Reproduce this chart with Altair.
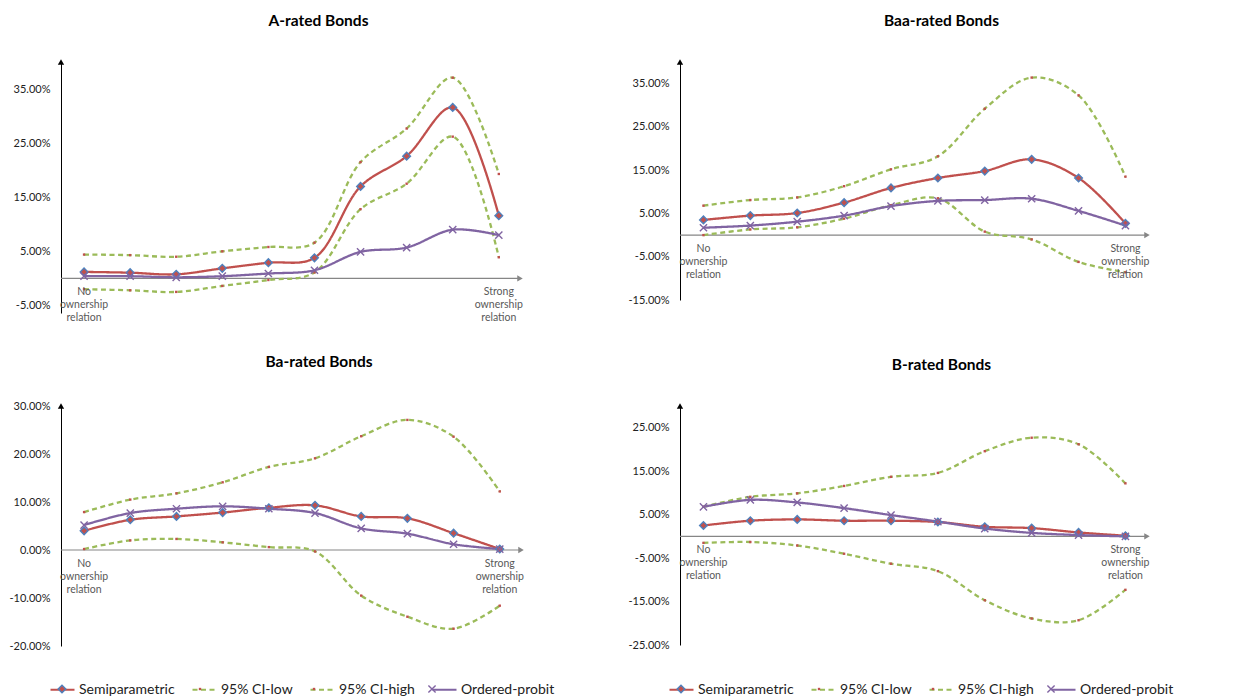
import altair as alt
import pandas as pd

FONT = "Lato"

X = [1, 2, 3, 4, 5, 6, 7, 8, 9, 10]
X_LABELS = ["No\nownership\nrelation", "", "", "", "", "", "", "", "", "Strong\nownership\nrelation"]
SERIES = ["Semiparametric", "95% CI-low", "95% CI-high", "Ordered-probit"]
# marker keys: same text plus a zero-width space so the marker legend is kept apart from the line legend
MARKERS = [s + "\u200b" for s in SERIES]

# A-rated
A_SEMI = [1.2, 1.05, 0.75, 1.85, 2.9, 3.8, 17.0, 22.6, 31.6, 11.6]
A_LOW = [-2.0, -2.2, -2.5, -1.4, -0.3, 1.1, 12.8, 17.5, 26.2, 3.9]
A_HIGH = [4.4, 4.3, 4.0, 5.0, 5.8, 6.6, 21.5, 27.7, 37.1, 19.3]
A_PROBIT = [0.4, 0.4, 0.2, 0.4, 0.9, 1.5, 4.9, 5.7, 9.0, 8.0]
A_TICKS = [-5, 0, 5, 10, 15, 20, 25, 30, 35, 40]

# Baa-rated
BAA_SEMI = [3.5, 4.5, 5.1, 7.5, 10.9, 13.2, 14.8, 17.5, 13.2, 2.7]
BAA_LOW = [0.0, 1.3, 1.8, 3.8, 6.9, 8.5, 0.8, -1.0, -6.2, -8.6]
BAA_HIGH = [6.8, 8.1, 8.7, 11.3, 15.2, 18.2, 29.2, 36.4, 32.3, 13.5]
BAA_PROBIT = [1.7, 2.2, 3.1, 4.5, 6.7, 7.9, 8.1, 8.4, 5.6, 2.2]
BAA_TICKS = [-15, -10, -5, 0, 5, 10, 15, 20, 25, 30, 35, 40]

# Ba-rated
BA_SEMI = [4.0, 6.3, 7.0, 7.8, 8.8, 9.3, 7.0, 6.6, 3.5, 0.2]
BA_LOW = [0.2, 2.0, 2.3, 1.6, 0.6, -0.3, -9.5, -13.9, -16.4, -11.6]
BA_HIGH = [7.9, 10.5, 11.8, 14.1, 17.3, 19.1, 23.7, 27.1, 23.6, 12.2]
BA_PROBIT = [5.2, 7.7, 8.6, 9.1, 8.6, 7.7, 4.5, 3.4, 1.2, 0.2]
BA_TICKS = [-20, -15, -10, -5, 0, 5, 10, 15, 20, 25, 30]

# B-rated
B_SEMI = [2.5, 3.6, 3.9, 3.6, 3.6, 3.3, 2.2, 1.9, 0.9, 0.15]
B_LOW = [-1.5, -1.3, -2.1, -4.0, -6.3, -8.0, -14.7, -18.9, -19.3, -12.3]
B_HIGH = [6.8, 9.1, 9.9, 11.6, 13.7, 14.6, 19.6, 22.7, 21.2, 12.2]
B_PROBIT = [6.8, 8.4, 7.8, 6.5, 4.9, 3.4, 1.8, 0.8, 0.3, 0.0]
B_TICKS = [-25, -20, -15, -10, -5, 0, 5, 10, 15, 20, 25, 30]

RED = "#C0504D"
GREEN = "#9BBB59"
PURPLE = "#8064A2"
BLUE = "#4F81BD"
AXIS_GREY = "#868686"

XMIN, XMAX = 0.5, 10.46

LABEL_EXPR = "(datum.value < 0 ? '-' : '') + format(abs(datum.value), '.2f') + '%'"

MARKER_SHAPES = [
    "M0,-0.32L0.32,0L0,0.32L-0.32,0Z",
    "M-0.04,-0.04L0.04,-0.04L0.04,0.04L-0.04,0.04Z",
    "M-0.04,-0.04L0.04,-0.04L0.04,0.04L-0.04,0.04Z",
    "M-0.3,-0.3L0.3,0.3M-0.3,0.3L0.3,-0.3",
]
SYM = 576


def make_panel(title, semi, low, high, probit, ticks, ymin, ymax, width, height, show_legend):
    rows = []
    for name, mk, vals in zip(SERIES, MARKERS, [semi, low, high, probit]):
        for x, v, lb in zip(X, vals, X_LABELS):
            rows.append({"x": x, "series": name, "marker": mk, "value": v,
                         "label": lb if name == SERIES[0] else ""})
    df = pd.DataFrame(rows)

    xs = alt.Scale(domain=[XMIN, XMAX], nice=False, zero=False)
    ys = alt.Scale(domain=[ymin, ymax], nice=False, zero=False)
    xenc = alt.X("x:Q", scale=xs, axis=None)
    yenc = alt.Y("value:Q", scale=ys, axis=alt.Axis(
        values=ticks, labelExpr=LABEL_EXPR, ticks=False, grid=False,
        domainColor="#000000", labelFont=FONT, labelFontSize=11,
        labelColor="#222222", labelPadding=11, title=None, labelOverlap=False))

    if show_legend:
        leg_lines = alt.Legend(
            title=None, orient="none", legendX=-12, legendY=270,
            direction="horizontal", symbolType="stroke", symbolSize=SYM,
            symbolStrokeWidth=2.2, labelFont=FONT, labelFontSize=14, labelColor="#222222",
            columnPadding=13, labelOffset=3)
        leg_marks = alt.Legend(
            title=None, orient="none", legendX=-12, legendY=270,
            direction="horizontal", symbolSize=SYM, symbolStrokeWidth=1.4,
            labelFont=FONT, labelFontSize=14, labelOpacity=0,
            columnPadding=13, labelOffset=3)
    else:
        leg_lines = None
        leg_marks = None

    base = alt.Chart(df)

    # axis decorations drawn from the data through the same scales
    axis_pts = base.transform_filter(alt.datum.series == SERIES[0]).transform_aggregate(
        n="count()"
    ).transform_calculate(zero="0", xend=str(XMAX), xstart=str(XMIN), ytop=str(ymax))

    xrule = axis_pts.mark_rule(color=AXIS_GREY, strokeWidth=1.2).encode(
        x=alt.X("xstart:Q", scale=xs, axis=None), x2="xend:Q",
        y=alt.Y("zero:Q", scale=ys))
    xarrow = axis_pts.mark_point(shape="triangle-right", filled=True, size=40,
                                 color=AXIS_GREY, opacity=1).encode(
        x=alt.X("xend:Q", scale=xs, axis=None), y=alt.Y("zero:Q", scale=ys))
    yarrow = axis_pts.mark_point(shape="triangle-up", filled=True, size=40,
                                 color="#000000", opacity=1).encode(
        x=alt.X("xstart:Q", scale=xs, axis=None), y=alt.Y("ytop:Q", scale=ys))

    lines = base.mark_line(interpolate="catmull-rom", strokeWidth=2.3).encode(
        x=xenc, y=yenc,
        color=alt.Color("series:N", scale=alt.Scale(domain=SERIES, range=[RED, GREEN, GREEN, PURPLE]),
                        legend=leg_lines),
        strokeDash=alt.StrokeDash("series:N", scale=alt.Scale(domain=SERIES,
                                  range=[[1, 0], [5, 3.5], [5, 3.5], [1, 0]]), legend=leg_lines),
    )

    markers = base.mark_point(size=SYM, strokeWidth=1.4, opacity=1).encode(
        x=xenc, y=yenc,
        shape=alt.Shape("marker:N", scale=alt.Scale(domain=MARKERS, range=MARKER_SHAPES), legend=leg_marks),
        fill=alt.Fill("marker:N", scale=alt.Scale(domain=MARKERS, range=[RED, RED, RED, "transparent"]),
                      legend=leg_marks),
        stroke=alt.Stroke("marker:N", scale=alt.Scale(domain=MARKERS, range=[BLUE, RED, RED, PURPLE]),
                          legend=leg_marks),
    )

    texts = base.transform_filter(alt.datum.label != "").transform_calculate(zero="0").mark_text(
        lineBreak="\n", baseline="top", dy=9, fontSize=10.5, font=FONT, color="#595959", lineHeight=13
    ).encode(x=xenc, y=alt.Y("zero:Q", scale=ys), text="label:N")

    return alt.layer(xrule, xarrow, yarrow, lines, markers, texts).properties(
        width=width, height=height,
        title=alt.TitleParams(title, font=FONT, fontSize=15.5, fontWeight="bold", color="#000000",
                              dx=28, offset=30),
    )


pA = make_panel("A-rated Bonds", A_SEMI, A_LOW, A_HIGH, A_PROBIT, A_TICKS, -6.4, 40, 459, 251, False)
pBaa = make_panel("Baa-rated Bonds", BAA_SEMI, BAA_LOW, BAA_HIGH, BAA_PROBIT, BAA_TICKS, -15, 40, 467, 238, False)
pBa = make_panel("Ba-rated Bonds", BA_SEMI, BA_LOW, BA_HIGH, BA_PROBIT, BA_TICKS, -20, 30, 460, 240, True)
pB = make_panel("B-rated Bonds", B_SEMI, B_LOW, B_HIGH, B_PROBIT, B_TICKS, -25, 30, 467, 239, True)

chart = alt.concat(pA, pBaa, pBa, pB, columns=2, spacing={"row": 30, "column": 72}).resolve_scale(
    color="independent", strokeDash="independent",
    shape="independent", fill="independent", stroke="independent"
).properties(
    padding={"left": 0, "top": 5, "right": 0, "bottom": 0}
).configure_view(stroke=None)

chart.save("out.html", embed_options={"renderer": "svg", "actions": False})
